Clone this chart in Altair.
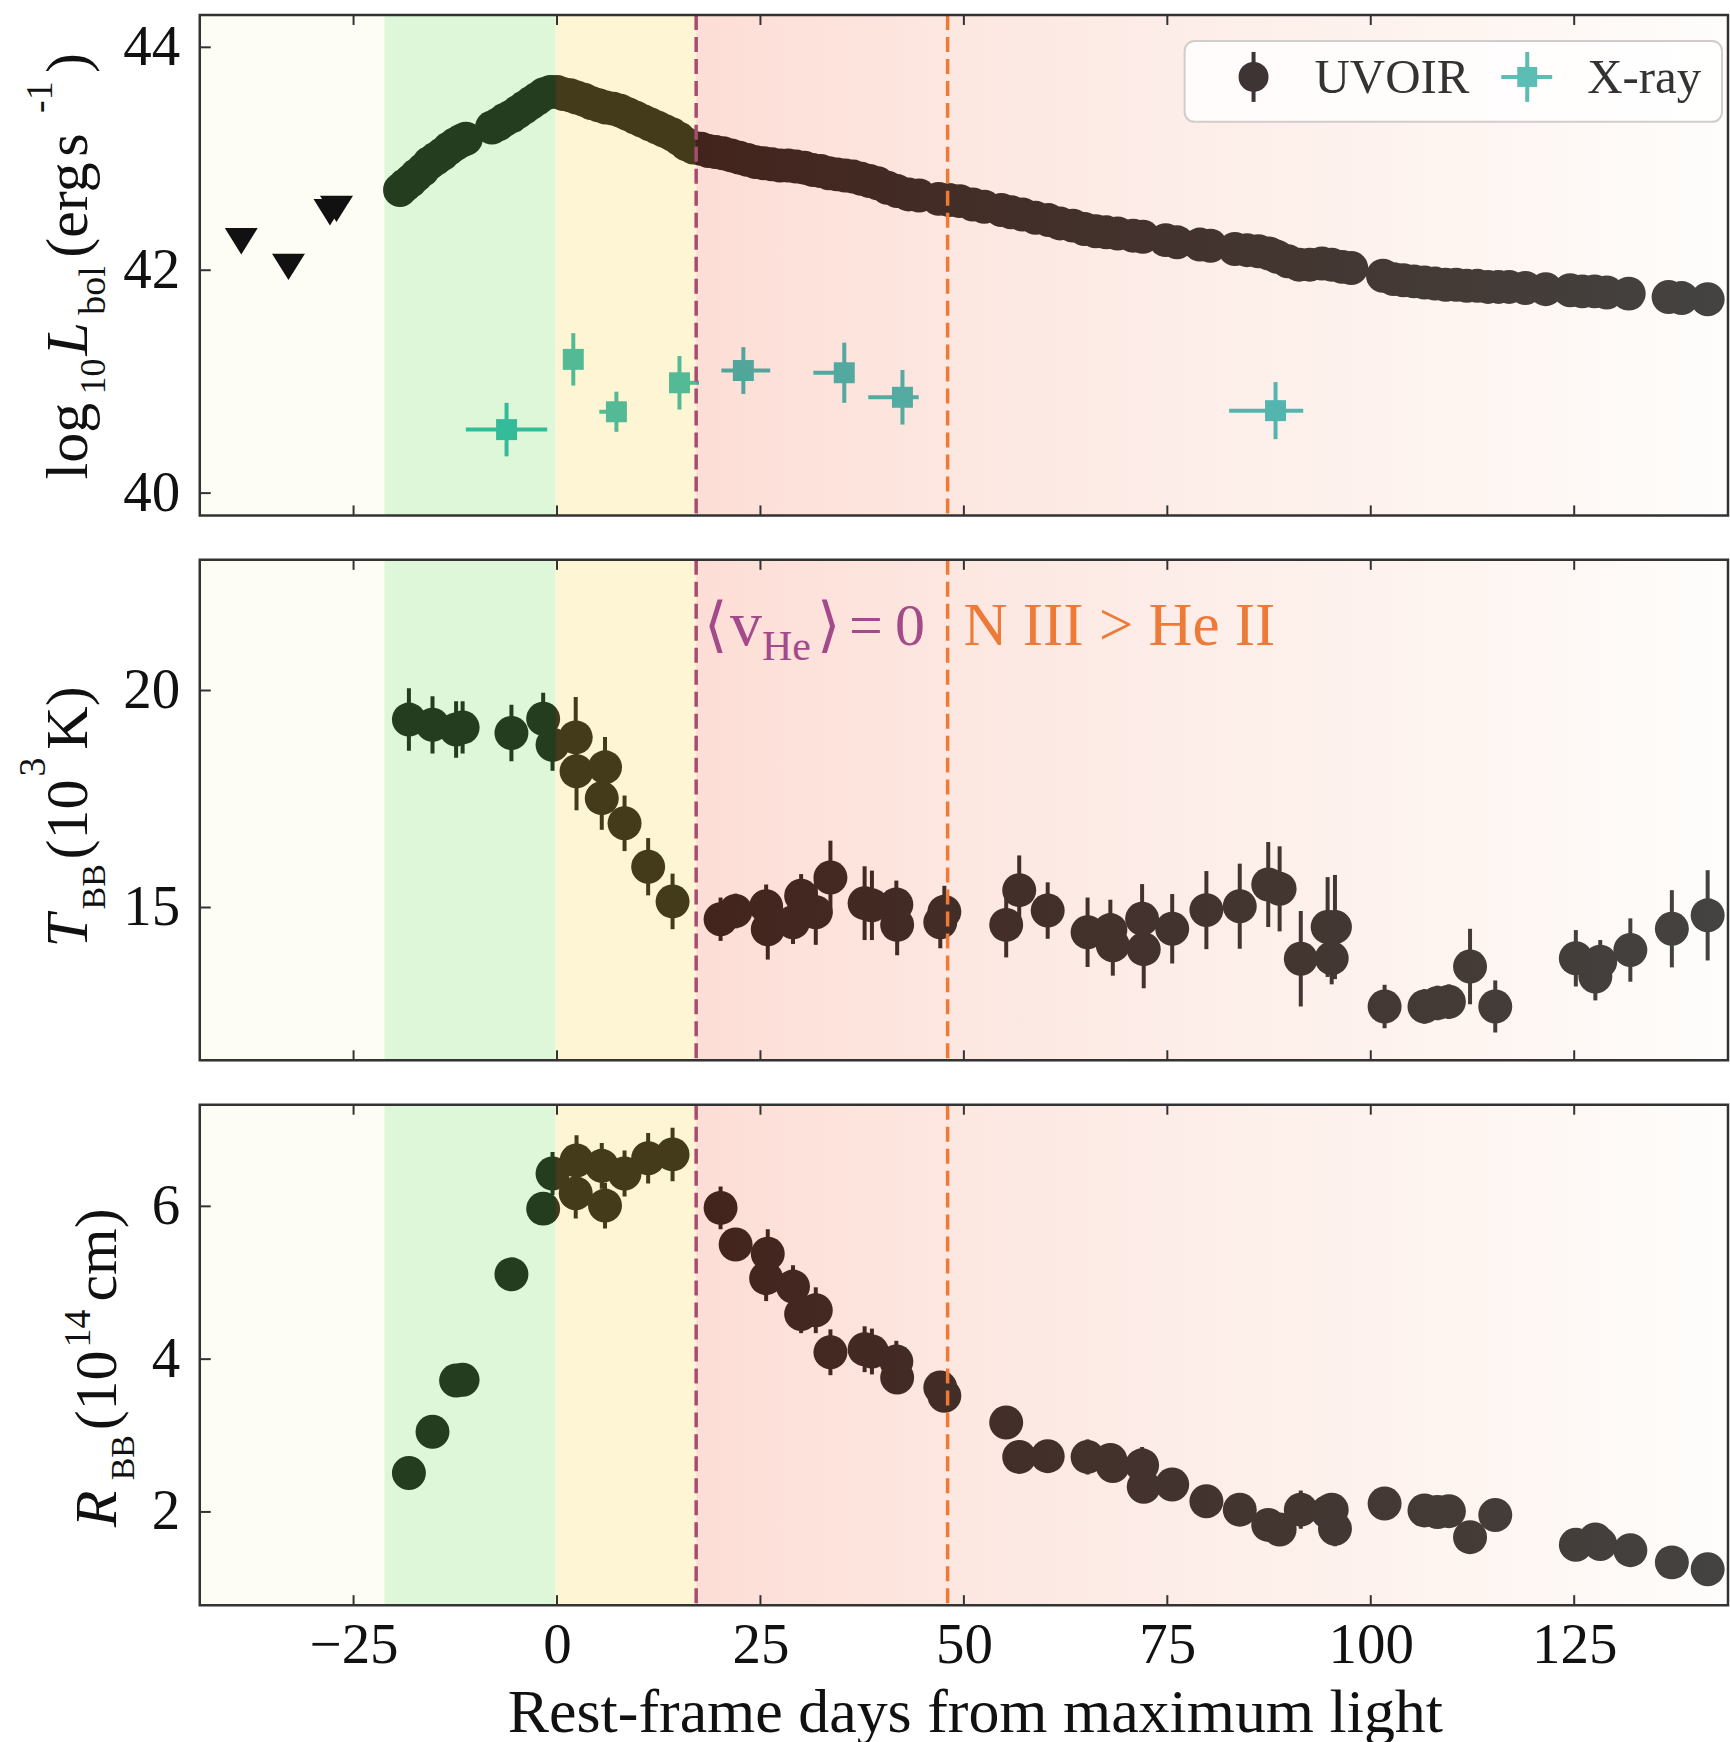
import altair as alt
import pandas as pd

FONT = "Liberation Serif"
TXT = "#111111"
FRAME = "#333333"
W, H = 1530, 501
XDOM = [-43.9, 143.9]
SHADE_ALPHA = 0.27

# ---------------- data ----------------
# UVOIR bolometric light curve (log10 erg/s)
lbol_day = [
    -19.3, -18.7, -18.0, -17.3, -16.5, -15.7, -14.9, -14.1, -13.3, -12.5, -11.8, -11.2,
    -8.0, -7.2, -6.4, -5.6, -4.8, -4.0, -3.2, -2.4, -1.6, -0.8,
    0.0, 0.8, 1.6, 2.4, 3.3, 4.2, 5.1, 6.0, 6.9, 7.8, 8.7, 9.6, 10.5, 11.4, 12.3, 13.2,
    14.1, 15.0, 15.9, 16.8,
    17.7, 18.6, 19.5, 20.4, 21.4, 22.4, 23.4, 24.4, 25.4, 26.4, 27.4, 28.4, 29.4, 30.4,
    31.4, 32.4, 33.4, 34.4, 35.4, 36.4, 37.4, 38.4, 39.4, 40.6, 41.8, 43.2, 44.5, 46.9,
    48.2, 49.5, 51.1, 52.5, 54.6, 55.8, 57.2, 58.8, 60.4, 61.8, 63.4, 64.8, 66.2, 67.5,
    68.9, 70.8, 72.0, 74.8, 76.2, 79.0, 80.3, 83.3, 84.8, 86.2, 87.5, 88.5, 89.8, 91.2,
    92.5, 94.0, 95.2, 96.5, 97.6,
    101.5, 102.8, 104.0, 105.3, 106.6, 107.9, 109.2, 110.5, 111.8, 113.1, 114.4, 115.7,
    117.0, 119.0, 121.5, 124.5, 126.0, 127.5, 129.0, 131.7, 136.6, 138.2, 141.4,
]
lbol_log = [
    42.72, 42.76, 42.80, 42.85, 42.90, 42.96, 43.00, 43.04, 43.09, 43.13, 43.16, 43.18,
    43.28, 43.31, 43.35, 43.38, 43.42, 43.46, 43.50, 43.54, 43.58, 43.60,
    43.60, 43.58, 43.57, 43.55, 43.53, 43.50, 43.48, 43.46, 43.45, 43.43, 43.40, 43.37,
    43.34, 43.31, 43.28, 43.25, 43.22, 43.18, 43.13, 43.10,
    43.09, 43.07, 43.06, 43.05, 43.03, 43.01, 42.99, 42.97, 42.96, 42.95, 42.94, 42.94,
    42.93, 42.92, 42.90, 42.89, 42.87, 42.86, 42.85, 42.84, 42.82, 42.80, 42.78, 42.74,
    42.71, 42.68, 42.67, 42.64, 42.63, 42.62, 42.59, 42.57, 42.54, 42.52, 42.50, 42.47,
    42.45, 42.42, 42.40, 42.37, 42.35, 42.34, 42.33, 42.31, 42.30, 42.27, 42.25, 42.23,
    42.22, 42.19, 42.18, 42.17, 42.15, 42.12, 42.08, 42.05, 42.05, 42.06, 42.05, 42.03,
    42.02,
    41.95, 41.92, 41.91, 41.90, 41.89, 41.88, 41.87, 41.87, 41.86, 41.86, 41.85, 41.85,
    41.85, 41.84, 41.83, 41.82, 41.81, 41.81, 41.80, 41.79, 41.76, 41.75, 41.74,
]

# pre-discovery upper limits
limit_day = [-38.8, -33.0, -27.9, -27.1]
limit_log = [42.26, 42.03, 42.52, 42.55]

# X-ray luminosity
xray_day = [-6.2, 2.0, 7.3, 15.05, 22.9, 35.3, 42.45, 88.3]
xray_log = [40.57, 41.20, 40.73, 40.99, 41.10, 41.08, 40.86, 40.74]
xray_log_err = [0.24, 0.235, 0.18, 0.24, 0.21, 0.27, 0.245, 0.256]
xray_day_lo = [5.0, 1.0, 2.1, 1.0, 2.7, 3.8, 4.2, 5.7]
xray_day_hi = [5.0, 1.0, 1.0, 2.4, 3.3, 1.0, 2.0, 3.4]

# blackbody fits
bb_day = [
    -18.2, -15.3, -12.4, -11.6, -5.6, -1.7, -0.55, 2.3, 2.4, 5.5, 5.9, 8.3, 11.2, 14.2,
    20.1, 21.95, 25.7, 25.9, 29.0, 30.0, 31.8, 33.6, 37.8, 38.7, 41.7, 41.8, 47.1, 47.6,
    55.2, 56.8, 60.3,
    65.2, 68.0, 68.3, 71.9, 72.1, 75.6, 79.8, 83.9, 87.4, 88.8, 91.4, 94.7, 95.2, 95.6,
    101.7, 106.6, 108.2, 109.6, 112.2, 115.3, 125.2, 127.6, 128.2, 131.9, 137.0, 141.4,
]
bb_temp = [
    19.33, 19.21, 19.10, 19.15, 19.02, 19.35, 18.75, 18.92, 18.14, 17.52, 18.23, 16.94, 15.94, 15.14,
    14.73, 14.92, 15.03, 14.50, 14.66, 15.27, 14.89, 15.69, 15.10, 15.05, 15.07, 14.60, 14.66, 14.90,
    14.60, 15.40, 14.93,
    14.43, 14.48, 14.13, 14.74, 14.04, 14.51, 14.94, 15.03, 15.53, 15.43, 13.82, 14.55, 13.83, 14.55,
    12.72, 12.72, 12.80, 12.83, 13.64, 12.72, 13.83, 13.41, 13.75, 14.02, 14.51, 14.82,
]
bb_temp_err = [
    0.72, 0.66, 0.65, 0.60, 0.65, 0.60, 0.60, 0.93, 0.90, 0.73, 0.70, 0.64, 0.66, 0.64,
    0.50, 0.40, 0.50, 0.70, 0.50, 0.50, 0.75, 0.85, 0.85, 0.80, 0.55, 0.70, 0.60, 0.60,
    0.75, 0.80, 0.65,
    0.80, 0.70, 0.70, 0.80, 0.90, 0.80, 0.90, 0.98, 0.98, 0.98, 1.10, 1.15, 0.60, 1.20,
    0.50, 0.40, 0.40, 0.40, 0.87, 0.60, 0.65, 0.55, 0.50, 0.73, 0.89, 1.04,
]
bb_rad = [
    2.51, 3.05, 3.72, 3.73, 5.11, 5.97, 6.43, 6.17, 6.60, 6.53, 6.01, 6.43, 6.63, 6.68,
    5.98, 5.50, 5.06, 5.38, 4.95, 4.59, 4.64, 4.09, 4.13, 4.10, 3.97, 3.76, 3.63, 3.52,
    3.17, 2.72, 2.73,
    2.72, 2.68, 2.60, 2.61, 2.33, 2.36, 2.14, 2.03, 1.83, 1.77, 2.03, 2.00, 2.03, 1.78,
    2.11, 2.02, 2.00, 2.01, 1.67, 1.96, 1.57, 1.64, 1.58, 1.50, 1.34, 1.25,
]
bb_rad_err = [
    0.10, 0.10, 0.10, 0.10, 0.10, 0.15, 0.28, 0.33, 0.33, 0.30, 0.30, 0.30, 0.33, 0.35,
    0.28, 0.20, 0.30, 0.32, 0.28, 0.25, 0.30, 0.30, 0.30, 0.30, 0.27, 0.20, 0.20, 0.20,
    0.15, 0.15, 0.15,
    0.23, 0.20, 0.20, 0.24, 0.20, 0.20, 0.15, 0.15, 0.15, 0.15, 0.25, 0.20, 0.20, 0.23,
    0.15, 0.20, 0.20, 0.20, 0.15, 0.15, 0.15, 0.20, 0.15, 0.15, 0.15, 0.15,
]

# spectroscopic phases (shaded spans) and transition markers
phase_start = [-43.9, -21.2, -0.2]
phase_end = [-21.2, -0.2, 17.1]
phase_fill = ["#f8f8da", "#85e26f", "#fbda60"]
late_start = [17.1]
late_end = [143.9]
late_offsets = [0.0, 0.25, 0.5, 0.75, 1.0]
late_colors = ["#f78567", "#f7a690", "#f7c0ae", "#fbdacb", "#fbf8f1"]
marker_day = [17.1, 48.0]
marker_color = ["#a84c70", "#ef7a35"]

x_ticks = [-25, 0, 25, 50, 75, 100, 125]

# ---------------- tables ----------------
lbol_df = pd.DataFrame({"day": lbol_day, "val": lbol_log})
limit_df = pd.DataFrame({"day": limit_day, "val": limit_log})
xray_df = pd.DataFrame({
    "day": xray_day, "val": xray_log,
    "lo": [v - e for v, e in zip(xray_log, xray_log_err)],
    "hi": [v + e for v, e in zip(xray_log, xray_log_err)],
    "dlo": [d - e for d, e in zip(xray_day, xray_day_lo)],
    "dhi": [d + e for d, e in zip(xray_day, xray_day_hi)],
})
temp_df = pd.DataFrame({
    "day": bb_day, "val": bb_temp,
    "lo": [v - e for v, e in zip(bb_temp, bb_temp_err)],
    "hi": [v + e for v, e in zip(bb_temp, bb_temp_err)],
})
rad_df = pd.DataFrame({
    "day": bb_day, "val": bb_rad,
    "lo": [v - e for v, e in zip(bb_rad, bb_rad_err)],
    "hi": [v + e for v, e in zip(bb_rad, bb_rad_err)],
})
phase_df = pd.DataFrame({"start": phase_start, "end": phase_end, "fill": phase_fill})
late_df = pd.DataFrame({"start": late_start, "end": late_end})
marker_df = pd.DataFrame({"day": marker_day, "color": marker_color})
xtick_df = pd.DataFrame({"t": x_ticks})
one = pd.DataFrame({"k": [0]})

late_gradient = alt.LinearGradient(
    gradient="linear",
    stops=[alt.GradientStop(color=c, offset=o) for c, o in zip(late_colors, late_offsets)],
    x1=0, x2=1, y1=0, y2=0,
)


# ---------------- helpers ----------------
def xenc(field, axis):
    return alt.X(f"{field}:Q", scale=alt.Scale(domain=XDOM, nice=False, zero=False),
                 axis=axis, title=None)


def yenc(field, dom, axis):
    return alt.Y(f"{field}:Q", scale=alt.Scale(domain=dom, nice=False, zero=False),
                 axis=axis, title=None)


def y_axis(vals):
    return alt.Axis(values=vals, ticks=False, tickSize=0, domain=False, grid=False,
                    labelFont=FONT, labelFontSize=57, labelColor=TXT, labelPadding=20,
                    labelFlush=False)


def shading(xa):
    spans = alt.Chart(phase_df).mark_rect(opacity=SHADE_ALPHA, clip=True).encode(
        x=xenc("start", xa), x2="end:Q", y=alt.value(0), y2=alt.value(H),
        color=alt.Color("fill:N", scale=None))
    late = alt.Chart(late_df).mark_rect(opacity=SHADE_ALPHA, fill=late_gradient, clip=True).encode(
        x=xenc("start", xa), x2="end:Q", y=alt.value(0), y2=alt.value(H))
    lines = alt.Chart(marker_df).mark_rule(strokeDash=[15, 7], strokeWidth=3.5).encode(
        x=xenc("day", xa), color=alt.Color("color:N", scale=None))
    return [spans, late, lines]


def frame(dom, yvals, xa, ya):
    tick = dict(color=FRAME, strokeWidth=2)
    top = alt.Chart(xtick_df).mark_rule(**tick).encode(
        x=xenc("t", xa), y=alt.value(0), y2=alt.value(10))
    bottom = alt.Chart(xtick_df).mark_rule(**tick).encode(
        x=xenc("t", xa), y=alt.value(H - 10), y2=alt.value(H))
    left = alt.Chart(pd.DataFrame({"v": yvals})).mark_rule(**tick).encode(
        y=yenc("v", dom, ya), x=alt.value(0), x2=alt.value(11))
    box = alt.Chart(one).mark_rect(fillOpacity=0, stroke=FRAME, strokeWidth=2.5).encode(
        x=alt.value(0), x2=alt.value(W), y=alt.value(0), y2=alt.value(H))
    return [top, bottom, left, box]


def label(text, x, y, size=60, style="normal", angle=270, color=TXT, align="left"):
    return alt.Chart(one).mark_text(
        text=text, angle=angle, align=align, baseline="alphabetic", font=FONT,
        fontSize=size, fontStyle=style, color=color).encode(x=alt.value(x), y=alt.value(y))


def uvoir(df, dom, xa, ya, with_err=True):
    layers = []
    if with_err:
        layers.append(alt.Chart(df).mark_rule(color="#000000", strokeWidth=4, clip=True).encode(
            x=xenc("day", xa), y=yenc("lo", dom, ya), y2="hi:Q"))
    layers.append(alt.Chart(df).mark_point(filled=True, shape="circle", size=1156, opacity=1,
                                           color="#000000", clip=True).encode(
        x=xenc("day", xa), y=yenc("val", dom, ya)))
    return layers


# ---------------- top panel: bolometric luminosity ----------------
DOM_L = [39.8, 44.29]
ya_L = y_axis([40, 42, 44])
xray_col = "#16afab"
top_layers = [
    alt.Chart(xray_df).mark_rule(color=xray_col, strokeWidth=4).encode(
        x=xenc("day", None), y=yenc("lo", DOM_L, ya_L), y2="hi:Q"),
    alt.Chart(xray_df).mark_rule(color=xray_col, strokeWidth=4).encode(
        x=xenc("dlo", None), x2="dhi:Q", y=yenc("val", DOM_L, ya_L)),
    alt.Chart(xray_df).mark_point(filled=True, shape="square", size=441, opacity=1,
                                  color=xray_col).encode(
        x=xenc("day", None), y=yenc("val", DOM_L, ya_L)),
]
top_layers += uvoir(lbol_df, DOM_L, None, ya_L, with_err=False)
top_layers += shading(None)
top_layers.append(
    alt.Chart(limit_df).mark_point(filled=True, shape="M-1,-0.8L1,-0.8L0,0.8Z", size=1089,
                                   opacity=1, color="#111111").encode(
        x=xenc("day", None), y=yenc("val", DOM_L, ya_L)))
top_layers += frame(DOM_L, [40, 42, 44], None, ya_L)
# legend
top_layers += [
    alt.Chart(one).mark_rect(cornerRadius=10, fill="#ffffff", fillOpacity=0.8,
                             stroke="#d2cccc", strokeWidth=2).encode(
        x=alt.value(986), x2=alt.value(1524), y=alt.value(26), y2=alt.value(107)),
    alt.Chart(one).mark_rule(color="#3e3434", strokeWidth=4).encode(
        x=alt.value(1055), y=alt.value(37), y2=alt.value(87)),
    alt.Chart(one).mark_point(filled=True, shape="circle", size=900, opacity=1,
                              color="#3e3434").encode(x=alt.value(1055), y=alt.value(62)),
    label("UVOIR", 1116, 78, size=49, angle=0, color="#333333"),
    alt.Chart(one).mark_rule(color="#5bbdb4", strokeWidth=4).encode(
        x=alt.value(1303), x2=alt.value(1354), y=alt.value(62)),
    alt.Chart(one).mark_rule(color="#5bbdb4", strokeWidth=4).encode(
        x=alt.value(1329), y=alt.value(37), y2=alt.value(87)),
    alt.Chart(one).mark_point(filled=True, shape="square", size=400, opacity=1,
                              color="#5bbdb4").encode(x=alt.value(1329), y=alt.value(62)),
    label("X-ray", 1389, 78, size=49, angle=0, color="#333333"),
]
# y title: log10 L_bol (erg s^-1)
top_layers += [
    label("log", -113, 465),
    label("10", -95, 380, size=36),
    label("L", -113, 341, style="italic"),
    label("bol", -95, 300, size=38),
    label("(erg", -113, 243),
    label("s", -113, 142),
    label("-1", -148, 98, size=38),
    label(")", -113, 58),
]
# anchor fixing the page origin relative to the first panel
top_layers.append(alt.Chart(one).mark_rule(strokeOpacity=0, strokeWidth=0.01).encode(
    x=alt.value(-199), x2=alt.value(-199), y=alt.value(-13), y2=alt.value(-13)))

top = alt.layer(*top_layers).properties(width=W, height=H)

# ---------------- middle panel: temperature ----------------
DOM_T = [11.48, 23.01]
ya_T = y_axis([15, 20])
mid_layers = uvoir(temp_df, DOM_T, None, ya_T)
mid_layers += shading(None)
mid_layers += frame(DOM_T, [15, 20], None, ya_T)

anno_v = pd.DataFrame({"day": [marker_day[0]], "val": [21.04]})
anno_n = pd.DataFrame({"day": [marker_day[1]], "val": [21.04]})
PURPLE = "#a34a8a"
ORANGE = "#ee7a38"


def anno(df, text, dx, size, color, dy=0):
    return alt.Chart(df).mark_text(text=text, dx=dx, dy=dy, align="left", baseline="alphabetic",
                                   font=FONT, fontSize=size, color=color).encode(
        x=xenc("day", None), y=yenc("val", DOM_T, ya_T))


mid_layers += [
    anno(anno_v, "\u27e8", 8, 60, PURPLE),
    anno(anno_v, "v", 34, 64, PURPLE),
    anno(anno_v, "He", 66, 42, PURPLE, dy=15),
    anno(anno_v, "\u27e9", 121, 60, PURPLE),
    anno(anno_v, "=", 153, 60, PURPLE),
    anno(anno_v, "0", 199, 60, PURPLE),
    anno(anno_n, "N III > He II", 16, 61, ORANGE),
]
# y title: T_BB (10^3 K)
mid_layers += [
    label("T", -113, 388, style="italic"),
    label("BB", -95, 350, size=34),
    label("(10", -113, 300),
    label("3", -155, 217, size=38),
    label("K)", -113, 190),
]
mid = alt.layer(*mid_layers).properties(width=W, height=H)

# ---------------- bottom panel: radius ----------------
DOM_R = [0.78, 7.33]
ya_R = y_axis([2, 4, 6])
xa_B = alt.Axis(values=x_ticks, ticks=False, tickSize=0, domain=False, grid=False,
                labelFont=FONT, labelFontSize=57, labelColor=TXT, labelPadding=12,
                labelFlush=False, title="Rest-frame days from maximum light",
                titleFont=FONT, titleFontSize=62, titleFontWeight="normal", titleColor=TXT,
                titleX=776, titleY=126, titleAlign="center", titleBaseline="alphabetic")
bot_layers = uvoir(rad_df, DOM_R, xa_B, ya_R)
bot_layers += shading(xa_B)
bot_layers += frame(DOM_R, [2, 4, 6], xa_B, ya_R)
# y title: R_BB (10^14 cm)
bot_layers += [
    label("R", -84, 423, style="italic"),
    label("BB", -66, 376, size=34),
    label("(10", -84, 326),
    label("14", -110, 243, size=38),
    label("cm)", -84, 197),
]
bot = alt.layer(*bot_layers).properties(width=W, height=H)

chart = alt.vconcat(top, mid, bot, spacing=44.5, bounds="flush").properties(
    padding={"left": 0, "top": 0, "right": 0, "bottom": 0},
    background="white",
).configure_view(strokeWidth=0).configure(font=FONT)

chart.save("out.html", embed_options={"renderer": "svg", "actions": False})
